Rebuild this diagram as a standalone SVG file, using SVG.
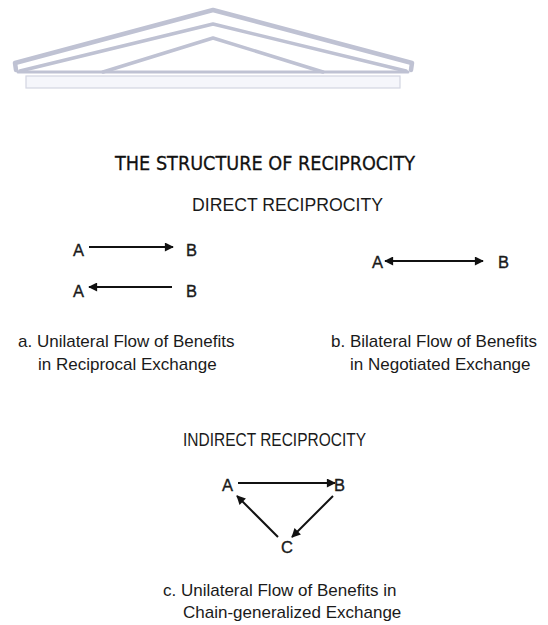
<svg xmlns="http://www.w3.org/2000/svg" width="548" height="625" viewBox="0 0 548 625">
<defs>
<style>
.ped{fill:none;stroke:#bfc2d3;stroke-linejoin:round;stroke-linecap:round}
.t{font-family:"Liberation Sans",Arial,sans-serif;fill:#1a1a1a}
.lbl{font-size:16.5px;stroke:#1a1a1a;stroke-width:0.35}
.cap{font-size:17px}
.hd{font-size:17.5px}
.title{font-size:19px;font-family:"DejaVu Sans","Liberation Sans",sans-serif;fill:#111;stroke:#111;stroke-width:0.3}
.ln{stroke:#111;stroke-width:2;fill:none}
</style>
<marker id="ah" viewBox="0 0 10 10" refX="9" refY="5" markerWidth="5.5" markerHeight="4.5" orient="auto-start-reverse" markerUnits="strokeWidth">
<path d="M0,0 L10,5 L0,10 Z" fill="#111"/>
</marker>
</defs>
<rect width="548" height="625" fill="#ffffff"/>
<g id="pediment">
<rect x="26" y="76" width="374" height="12" fill="#f5f6fb" stroke="#d3d5e2" stroke-width="1.2"/>
<path class="ped" stroke-width="4.5" d="M16,70 L15,63 L213,10 L412,63 L411,70"/>
<path class="ped" stroke-width="3.5" d="M20,71 L213,24 L406,71"/>
<path class="ped" stroke-width="3.5" d="M103,72 L213,38 L323,72"/>
<path class="ped" stroke-width="3" d="M18,72 L408,72"/>
</g>
<text class="title" x="115" y="170" textLength="300" lengthAdjust="spacingAndGlyphs">THE STRUCTURE OF RECIPROCITY</text>
<text class="t hd" x="192" y="211" textLength="191" lengthAdjust="spacingAndGlyphs">DIRECT RECIPROCITY</text>
<g id="nodeA1"><text class="t lbl" x="73" y="256">A</text></g>
<g id="nodeB1"><text class="t lbl" x="186" y="256">B</text></g>
<g id="nodeA2"><text class="t lbl" x="73" y="297">A</text></g>
<g id="nodeB2"><text class="t lbl" x="186" y="297">B</text></g>
<g id="nodeA3"><text class="t lbl" x="372" y="268">A</text></g>
<g id="nodeB3"><text class="t lbl" x="498" y="268">B</text></g>
<g id="nodeA4"><text class="t lbl" x="222" y="491">A</text></g>
<g id="nodeB4"><text class="t lbl" x="334" y="491">B</text></g>
<g id="nodeC4"><text class="t lbl" x="281" y="553">C</text></g>
<g id="connectors">
<line class="ln" x1="89" y1="247" x2="173" y2="247" marker-end="url(#ah)"/>
<line class="ln" x1="172" y1="287" x2="89" y2="287" marker-end="url(#ah)"/>
<line class="ln" x1="385" y1="261" x2="483" y2="261" marker-start="url(#ah)" marker-end="url(#ah)"/>
<line class="ln" x1="238" y1="483" x2="335" y2="483" marker-end="url(#ah)"/>
<line class="ln" x1="333" y1="496" x2="292" y2="537" marker-end="url(#ah)"/>
<line class="ln" x1="278" y1="537" x2="237" y2="496" marker-end="url(#ah)"/>
</g>
<text class="t cap" x="18" y="347">a. Unilateral Flow of Benefits</text>
<text class="t cap" x="38" y="370">in Reciprocal Exchange</text>
<text class="t cap" x="331" y="347">b. Bilateral Flow of Benefits</text>
<text class="t cap" x="350" y="370">in Negotiated Exchange</text>
<text class="t hd" x="183" y="446" textLength="183" lengthAdjust="spacingAndGlyphs">INDIRECT RECIPROCITY</text>
<text class="t cap" x="163" y="596">c.  Unilateral Flow of Benefits in</text>
<text class="t cap" x="183" y="618">Chain-generalized Exchange</text>
</svg>
